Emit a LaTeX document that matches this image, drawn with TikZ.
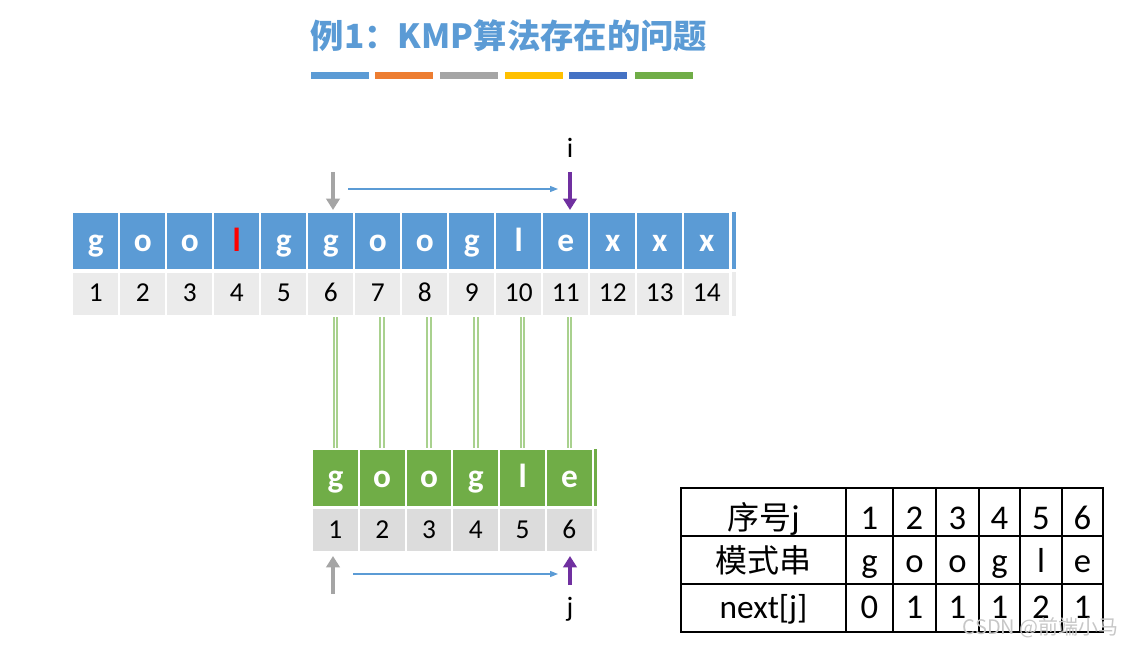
\documentclass[tikz,border=0pt]{standalone}
\usepackage{fontspec}
\setmainfont{Carlito}
\newfontfamily\cjk{Noto Sans CJK SC}
\usetikzlibrary{arrows.meta}
\definecolor{ablue}{HTML}{5B9BD5}
\definecolor{aorange}{HTML}{ED7D31}
\definecolor{agray}{HTML}{A5A5A5}
\definecolor{agold}{HTML}{FFC000}
\definecolor{adblue}{HTML}{4472C4}
\definecolor{agreen}{HTML}{70AD47}
\definecolor{lgreen}{HTML}{A9D18E}
\definecolor{apurple}{HTML}{7030A0}
\definecolor{cellgray}{HTML}{EBEBEB}
\definecolor{cellgray2}{HTML}{DCDCDC}
\tikzset{
  cellbase/.style={rectangle, draw=white, line width=1.5pt, inner sep=0pt, text depth=0pt},
  tcell/.style={cellbase, fill=ablue, text=white, minimum width=35.25pt, minimum height=43.5pt,
    text height=16pt, font=\bfseries\fontsize{25}{29}\selectfont},
  ncell/.style={cellbase, fill=cellgray, text=black, minimum width=35.25pt, minimum height=33pt,
    text height=12pt, font=\fontsize{20.5}{24}\selectfont},
  pcell/.style={cellbase, fill=agreen, text=white, minimum width=35.1pt, minimum height=43.5pt,
    text height=14pt, font=\bfseries\fontsize{25}{29}\selectfont},
  qcell/.style={cellbase, fill=cellgray2, text=black, minimum width=35.1pt, minimum height=32.5pt,
    text height=13pt, font=\fontsize{20.5}{24}\selectfont},
  dline/.style={draw=lgreen, line width=1.4pt, double=white, double distance=1.3pt},
  bigarrow/.style={line width=3pt, -{Triangle[width=10pt,length=8.5pt]}},
  thinarrow/.style={draw=ablue, line width=0.9pt, -{Triangle[width=4.5pt,length=6pt]}},
  tab/.style={rectangle, draw=black, line width=0.8pt, inner sep=0pt, text depth=0pt,
    minimum height=36pt, font=\fontsize{26}{30}\selectfont},
  lbl/.style={font=\fontsize{21}{25}\selectfont, inner sep=0pt},
  bar/.style={inner sep=0pt, minimum width=43.5pt, minimum height=5.5pt}
}
\begin{document}
\begin{tikzpicture}[x=0.75pt,y=-0.75pt]
\useasboundingbox (0,0) rectangle (1125,648);
% title
\node[font=\cjk\bfseries\fontsize{25}{30}\selectfont, text=ablue] (title) at (509,36) {例1：KMP算法存在的问题};
\foreach \col/\xx [count=\k] in {ablue/340, aorange/404, agray/469, agold/534, adblue/598, agreen/664}
  \node[bar, fill=\col] (bar\k) at (\xx,75.5) {};
% main string
\foreach \c [count=\k] in {g,o,o,l,g,g,o,o,g,l,e,x,x,x} {
  \node[tcell] (t\k) at ({95.8+47*(\k-1)},241) {\ifnum\k=4 \color{red}\fi\c};
  \node[ncell] (n\k) at ({95.8+47*(\k-1)},294) {\k};
}
\fill[ablue] (732,212.5) rectangle (735.5,269.5);
\fill[cellgray] (732,272.5) rectangle (735.5,316);
% pattern
\foreach \c [count=\k] in {g,o,o,g,l,e} {
  \node[pcell] (p\k) at ({335.4+46.8*(\k-1)},478) {\c};
  \node[qcell] (q\k) at ({335.4+46.8*(\k-1)},530) {\k};
}
\fill[agreen] (594,449.5) rectangle (596.5,506.5);
\fill[cellgray] (594,509) rectangle (596.5,551);
% double matching lines
\foreach \k in {1,...,6}
  \draw[dline] (p\k.north) -- (p\k.north |- n1.south);
% pointers
\coordinate (gt1) at (333,172); \coordinate (gt2) at (333,210);
\coordinate (pt1) at (570,172); \coordinate (pt2) at (570,210);
\coordinate (bt1) at (348,189); \coordinate (bt2) at (558,189);
\draw[bigarrow, draw=agray, fill=agray] (gt1) -- (gt2);
\draw[bigarrow, draw=apurple, fill=apurple] (pt1) -- (pt2);
\draw[thinarrow, fill=ablue] (bt1) -- (bt2);
\node[lbl] (ilbl) at (570,148) {i};
\coordinate (gb1) at (333,594); \coordinate (gb2) at (333,556);
\coordinate (pb1) at (570,585); \coordinate (pb2) at (570,556);
\coordinate (bb1) at (353,574); \coordinate (bb2) at (558,574);
\draw[bigarrow, draw=agray, fill=agray] (gb1) -- (gb2);
\draw[bigarrow, draw=apurple, fill=apurple] (pb1) -- (pb2);
\draw[thinarrow, fill=ablue] (bb1) -- (bb2);
\node[lbl] (jlbl) at (570,609) {j};
% table
\node[tab, minimum width=123.75pt, text height=26pt] (h1) at (763.5,512) {{\cjk\fontsize{24}{28}\selectfont 序号}j};
\node[tab, minimum width=123.75pt, text height=18pt] (h2) at (763.5,560) {{\cjk\fontsize{24}{28}\selectfont 模式串}};
\node[tab, minimum width=123.75pt, text height=16pt, font=\fontsize{25}{30}\selectfont] (h3) at (763.5,608) {next[j]};
\foreach \xx/\w/\a/\b/\cc [count=\k] in {869.5/35.25/1/g/0, 914.5/32.25/2/o/1, 957.5/32.25/3/o/1, 999.5/30.75/4/g/1, 1041/31.5/5/l/2, 1082.5/30.75/6/e/1} {
  \node[tab, minimum width=\w pt, text height=26pt] (r1c\k) at (\xx,512) {\a};
  \node[tab, minimum width=\w pt, text height=18pt] (r2c\k) at (\xx,560) {\b};
  \node[tab, minimum width=\w pt, text height=16pt] (r3c\k) at (\xx,608) {\cc};
}
% watermark
\node[font=\cjk\fontsize{15}{18}\selectfont, text=black!22, anchor=east, inner sep=0pt] (wm) at (1119,628) {CSDN @前端小马};
\end{tikzpicture}
\end{document}
